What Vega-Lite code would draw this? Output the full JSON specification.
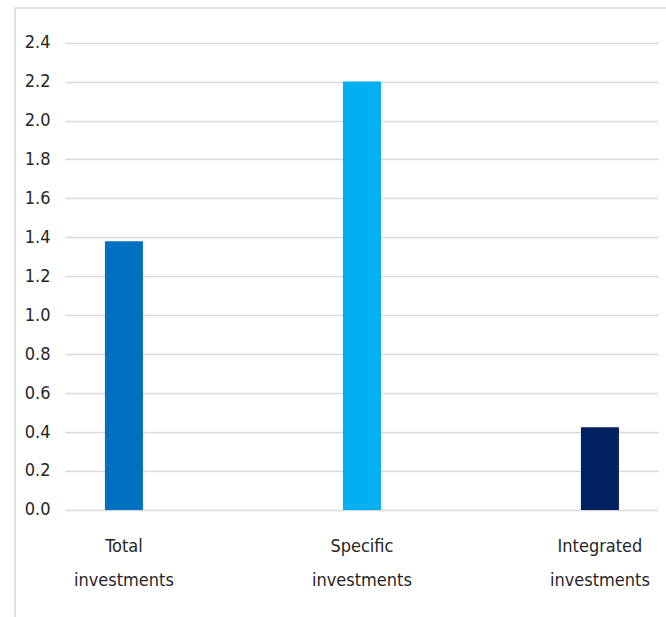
{
  "$schema": "https://vega.github.io/schema/vega-lite/v6.json",
  "width": 660,
  "height": 612,
  "autosize": {"type": "none"},
  "padding": {"left": 15, "top": 8, "right": 0, "bottom": 0},
  "background": "white",
  "config": {
    "view": {"stroke": "#d9d9d9", "strokeWidth": 1.5},
    "font": "DejaVu Sans Condensed, DejaVu Sans"
  },
  "data": {
    "values": [
      {"category": "Total investments", "value": 1.38},
      {"category": "Specific investments", "value": 2.2},
      {"category": "Integrated investments", "value": 0.425}
    ]
  },
  "mark": {"type": "bar"},
  "encoding": {
    "x": {
      "field": "category",
      "type": "nominal",
      "sort": null,
      "scale": {"paddingInner": 0.8403, "paddingOuter": 0.3067, "align": 0.616},
      "axis": {
        "title": null,
        "orient": "bottom",
        "offset": -110,
        "ticks": false,
        "domain": false,
        "labelAngle": 0,
        "labelAlign": "center",
        "labelBaseline": "top",
        "labelPadding": 27,
        "labelExpr": "split(datum.label, ' ')",
        "labelLineHeight": 34,
        "labelFont": "DejaVu Sans Condensed, DejaVu Sans",
        "labelFontSize": 18,
        "labelColor": "#262626"
      }
    },
    "y": {
      "field": "value",
      "type": "quantitative",
      "scale": {"domain": [-0.5654, 2.578], "nice": false, "zero": false},
      "axis": {
        "title": null,
        "grid": false,
        "domain": false,
        "orient": "left",
        "offset": -50,
        "tickSize": -593,
        "tickColor": "#d9d9d9",
        "tickWidth": 1.5,
        "labelPadding": 608,
        "labelAlign": "right",
        "values": [0, 0.2, 0.4, 0.6, 0.8, 1.0, 1.2, 1.4, 1.6, 1.8, 2.0, 2.2, 2.4],
        "format": ".1f",
        "labelFont": "DejaVu Sans Condensed, DejaVu Sans",
        "labelFontSize": 18,
        "labelColor": "#262626"
      }
    },
    "color": {
      "field": "category",
      "type": "nominal",
      "sort": null,
      "scale": {
        "domain": ["Total investments", "Specific investments", "Integrated investments"],
        "range": ["#0070C0", "#00B0F0", "#002060"]
      },
      "legend": null
    }
  }
}
